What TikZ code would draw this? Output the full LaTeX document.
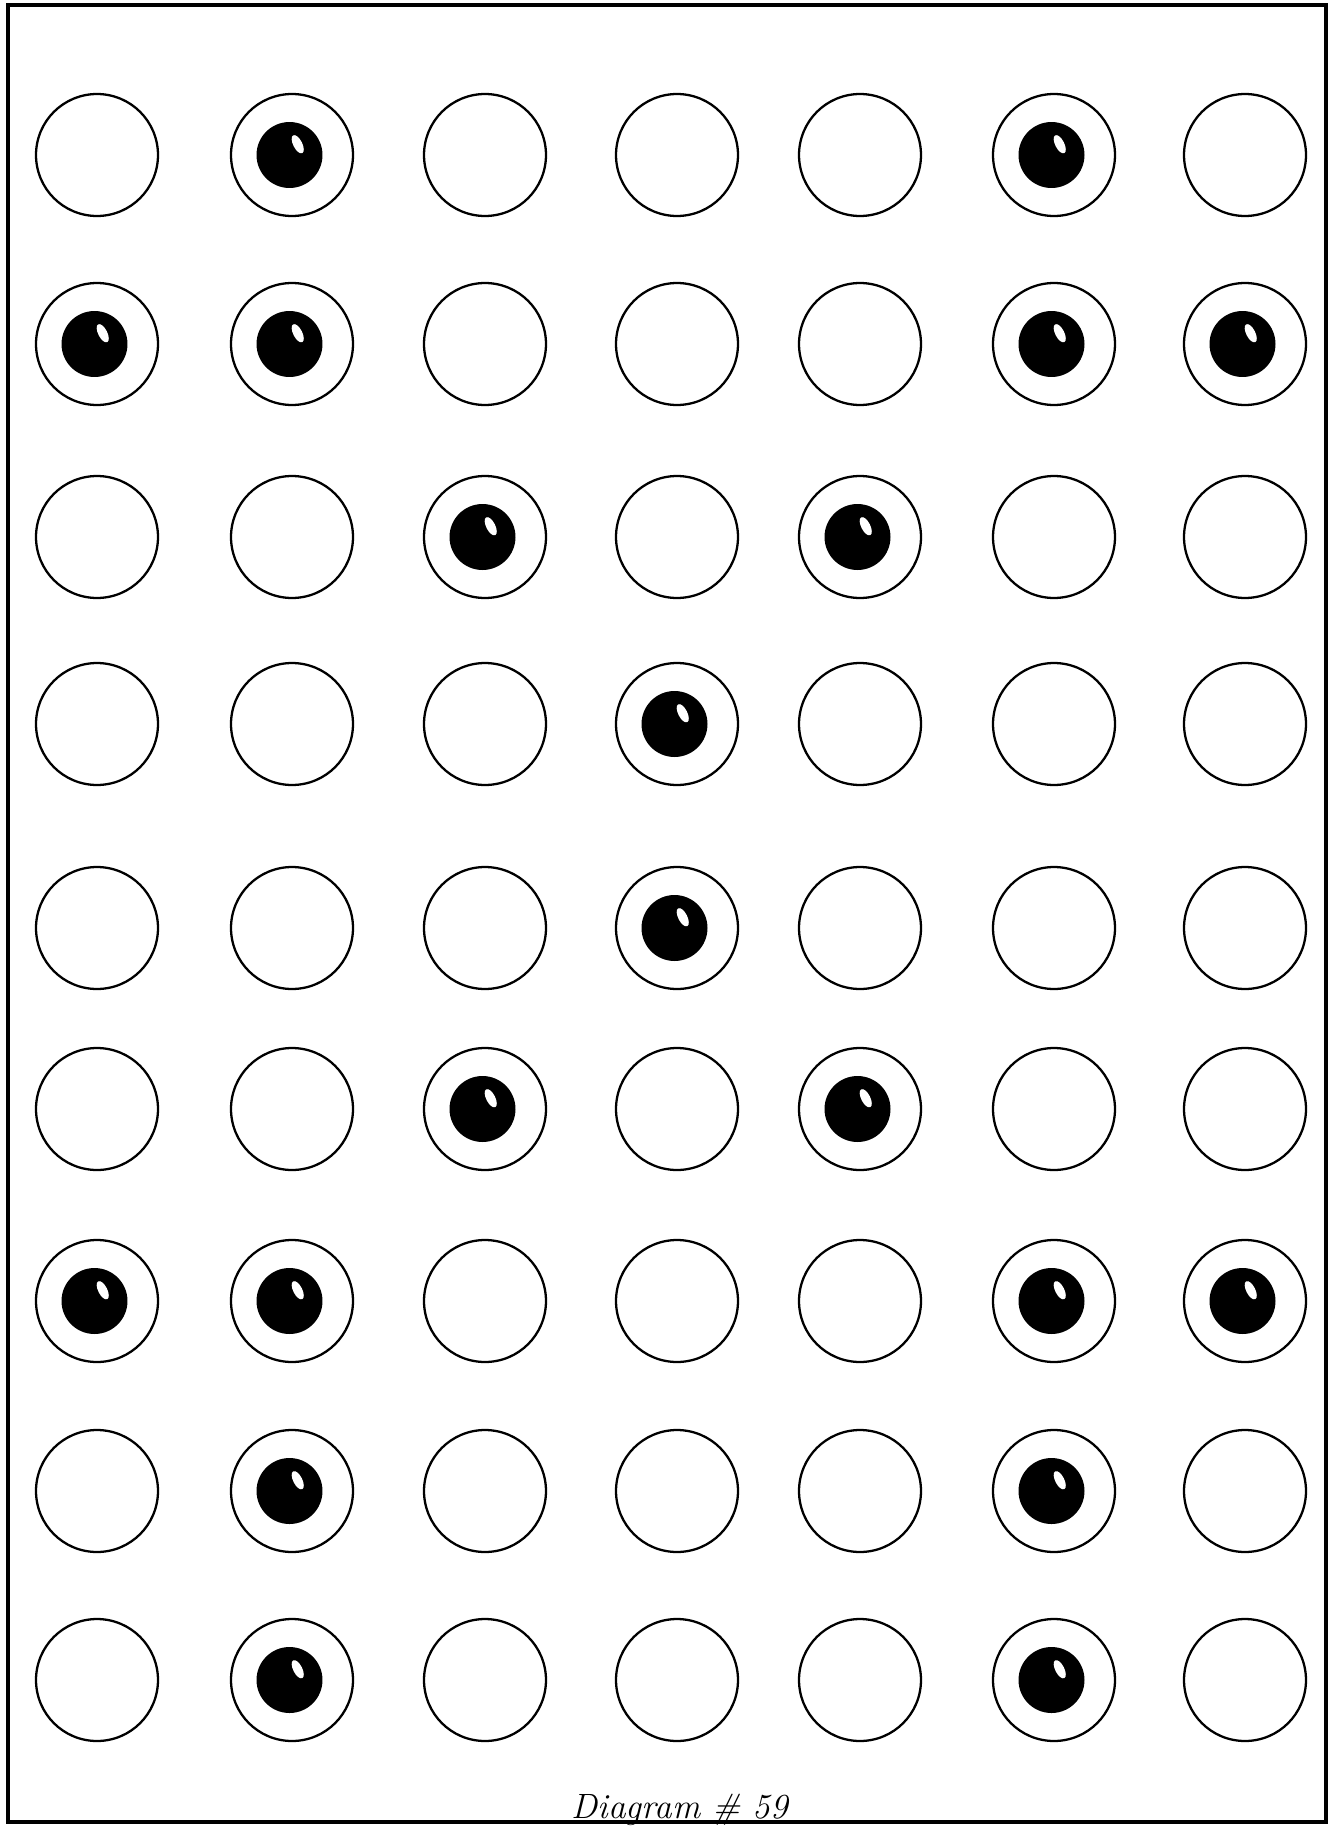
\documentclass[tikz,border=0pt]{standalone}
\usetikzlibrary{positioning}

\begin{document}
\begin{tikzpicture}[
  x=0.02cm, y=-0.02cm,
  frame/.style={draw, line width=2.2pt},
  ring/.style={draw, line width=1.3pt},
  pupil/.style={fill=black},
  glint/.style={fill=white, rotate=27},
  caption/.style={font=\itshape\fontsize{20}{24}\selectfont, anchor=base}
]
  \useasboundingbox (0,0) rectangle (1335,1829);
  \draw[frame] (8,5) rectangle (1326,1822);

  % grid of rings, 7 columns by 9 rows
  \foreach \yy [count=\r] in {155,344,537,724,928,1109,1301,1491,1680}
    \foreach \xx [count=\c] in {97,292,485,677,860,1054,1245}
    {
      \coordinate (p-\c-\r) at (\xx,\yy);
      \draw[ring] (p-\c-\r) circle [radius=1.22cm];
    }

  % filled eyes (column/row)
  \foreach \c/\r in {2/1,6/1, 1/2,2/2,6/2,7/2, 3/3,5/3, 4/4, 4/5, 3/6,5/6,
                     1/7,2/7,6/7,7/7, 2/8,6/8, 2/9,6/9}
  {
    \fill[pupil] ([xshift=-0.05cm]p-\c-\r) circle [radius=0.66cm];
    \fill[glint] ([shift={(0.2cm,0.14cm)}]p-\c-\r) ellipse [x radius=0.09cm, y radius=0.2cm];
  }

  \node[caption] (title) at (680,1818) {Diagram \# 59};
\end{tikzpicture}
\end{document}
